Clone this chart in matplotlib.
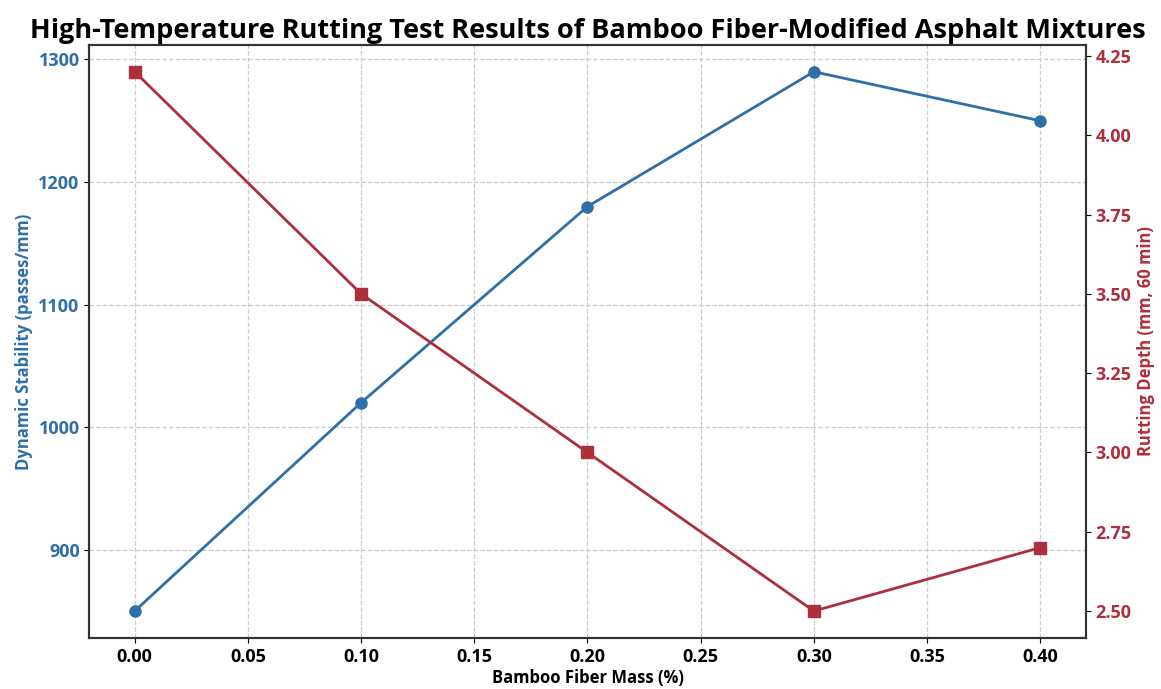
import matplotlib
matplotlib.use("Agg")
from matplotlib import pyplot as plt

plt.rcParams['font.family'] = ['Open Sans', 'DejaVu Sans']

# fiber dosage (%) and test results
fiber_mass = [0.0, 0.1, 0.2, 0.3, 0.4]
dynamic_stability = [850, 1020, 1180, 1290, 1250]
rutting_depth = [4.2, 3.5, 3.0, 2.5, 2.7]

blue = '#2e6fa8'
red = '#ad2f3b'

fig, ax1 = plt.subplots(figsize=(11.61, 6.89), dpi=100)
ax1.plot(fiber_mass, dynamic_stability, color=blue, marker='o', markersize=8, linewidth=2)
ax1.set_xlabel("Bamboo Fiber Mass (%)", fontsize=12, fontweight='bold', labelpad=2)
ax1.set_ylabel("Dynamic Stability (passes/mm)", fontsize=12, fontweight='bold', color=blue)
ax1.tick_params(axis='y', labelcolor=blue, labelsize=13)
ax1.tick_params(axis='x', labelsize=13)
ax1.set_yticks([900, 1000, 1100, 1200, 1300])
ax1.set_xticks([0, 0.05, 0.1, 0.15, 0.2, 0.25, 0.3, 0.35, 0.4])
ax1.xaxis.set_major_formatter(matplotlib.ticker.FormatStrFormatter('%.2f'))
ax1.grid(True, linestyle='--', color='#cccccc', linewidth=0.9)
for lbl in ax1.get_xticklabels() + ax1.get_yticklabels():
    lbl.set_fontweight('bold')

ax2 = ax1.twinx()
ax2.plot(fiber_mass, rutting_depth, color=red, marker='s', markersize=8, linewidth=2)
ax2.set_ylabel("Rutting Depth (mm, 60 min)", fontsize=12, fontweight='bold', color=red)
ax2.tick_params(axis='y', labelcolor=red, labelsize=13)
ax2.yaxis.set_major_formatter(matplotlib.ticker.FormatStrFormatter('%.2f'))
for lbl in ax2.get_yticklabels():
    lbl.set_fontweight('bold')

for ax in (ax1, ax2):
    for s in ax.spines.values():
        s.set_color('#333333')
        s.set_linewidth(1.5)

plt.title("High-Temperature Rutting Test Results of Bamboo Fiber-Modified Asphalt Mixtures",
          fontsize=19.5, fontweight='bold', pad=5)
fig.subplots_adjust(left=0.077, right=0.935, top=0.935, bottom=0.074)
plt.savefig("out.png")
